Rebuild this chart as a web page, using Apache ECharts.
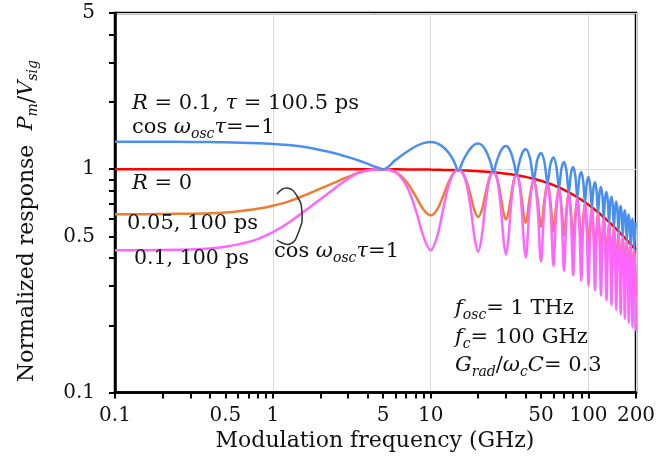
<!DOCTYPE html>
<html>
<head>
<meta charset="utf-8">
<script src="https://cdn.jsdelivr.net/npm/echarts@6.0.0/dist/echarts.min.js"></script>
<style>
  html, body { margin: 0; padding: 0; background: #fff; }
  #chart { width: 663px; height: 469px; }
</style>
</head>
<body>
<div id="chart"></div>
<script>
// modulation frequency (GHz)
var freq = [0.1, 0.15, 0.2, 0.3, 0.4, 0.5, 0.63, 0.8, 1, 1.25, 1.6, 2, 2.5, 2.8, 3.15, 3.5, 4, 4.5,
  5, 6, 7, 8, 9, 10, 11, 12, 13, 14, 15, 16, 17, 18, 19, 20, 21, 22, 23, 24, 25, 26, 27, 28, 29, 30,
  31, 32, 33, 34, 35, 36, 37, 38, 39, 40,
  42.5, 45, 47.5, 50, 52.5, 55, 57.5, 60, 62.5, 65, 67.5, 70, 72.5, 75, 77.5, 80, 82.5, 85, 87.5, 90,
  92.5, 95, 97.5, 100, 102.5, 105, 107.5, 110, 112.5, 115, 117.5, 120, 122.5, 125, 127.5, 130,
  132.5, 135, 137.5, 140, 142.5, 145, 147.5, 150, 152.5, 155, 157.5, 160, 162.5, 165, 167.5, 170,
  172.5, 175, 177.5, 180, 182.5, 185, 187.5, 190, 192.5, 195, 197.5, 200];

// R = 0
var respR0 = [1, 1, 1, 1, 1, 1, 1, 1, 1, 1, 1, 1, 1, 1, 1, 1, 1, 1,
  1.0, 0.998, 0.997, 0.997, 0.996, 0.995, 0.994, 0.992, 0.991, 0.990, 0.988, 0.986, 0.985, 0.983, 0.981,
  0.979, 0.977, 0.975, 0.973, 0.970, 0.968, 0.965, 0.963, 0.960, 0.957, 0.954, 0.952, 0.949, 0.946,
  0.943, 0.940, 0.936, 0.933, 0.930, 0.926, 0.923,
  0.914, 0.905, 0.896, 0.887, 0.877, 0.868, 0.858, 0.848, 0.838, 0.828, 0.818, 0.808, 0.798, 0.788,
  0.778, 0.768, 0.759, 0.749, 0.739, 0.730, 0.720, 0.711, 0.702, 0.693, 0.684, 0.675, 0.666, 0.658,
  0.649, 0.641, 0.633, 0.625, 0.617, 0.609, 0.602, 0.594, 0.587, 0.579, 0.573, 0.566, 0.559, 0.552,
  0.546, 0.539, 0.533, 0.527, 0.521, 0.515, 0.509, 0.503, 0.497, 0.492, 0.486, 0.481, 0.476, 0.471,
  0.466, 0.461, 0.456, 0.451, 0.446, 0.442, 0.437, 0.433];

// R = 0.1, tau = 100.5 ps, cos(w_osc tau) = -1
var respBlue = [1.327, 1.327, 1.326, 1.324, 1.322, 1.319, 1.313, 1.306, 1.297, 1.281, 1.255, 1.219,
  1.175, 1.148, 1.120, 1.093, 1.055, 1.022,
  1.0, 1.10, 1.19, 1.263, 1.308, 1.323, 1.305, 1.257, 1.183, 1.09,
  0.988, 1.087, 1.176, 1.245, 1.289, 1.302, 1.284, 1.235, 1.161, 1.069,
  0.968, 1.064, 1.149, 1.216, 1.257, 1.269, 1.251, 1.202, 1.129, 1.039,
  0.940, 1.032, 1.114, 1.178, 1.217, 1.228,
  1.127, 0.905, 1.105, 1.180, 1.082, 0.868, 1.058, 1.128, 1.033, 0.828, 1.009, 1.075,
  0.984, 0.788, 0.959, 1.021, 0.935, 0.749, 0.911, 0.970, 0.888, 0.711, 0.865, 0.921,
  0.843, 0.675, 0.821, 0.874, 0.800, 0.641, 0.780, 0.831, 0.761, 0.609, 0.742, 0.790,
  0.724, 0.579, 0.706, 0.752, 0.689, 0.552, 0.673, 0.717, 0.657, 0.527, 0.642, 0.684,
  0.627, 0.503, 0.613, 0.654, 0.600, 0.481, 0.587, 0.626, 0.574, 0.461, 0.562, 0.600,
  0.550, 0.442, 0.539, 0.576];

// R = 0.05, tau = 100 ps, cos(w_osc tau) = 1
var respOrange = [0.628, 0.628, 0.630, 0.632, 0.635, 0.640, 0.650, 0.664, 0.685, 0.715, 0.765, 0.818,
  0.874, 0.906, 0.936, 0.964, 0.987, 0.997,
  1.0, 0.970, 0.880, 0.761, 0.660, 0.621, 0.659, 0.758, 0.875, 0.962,
  0.988, 0.959, 0.870, 0.751, 0.650, 0.611, 0.648, 0.745, 0.859, 0.943,
  0.968, 0.938, 0.850, 0.733, 0.634, 0.595, 0.631, 0.725, 0.835, 0.916,
  0.940, 0.910, 0.824, 0.710, 0.614, 0.576,
  0.753, 0.905, 0.739, 0.553, 0.723, 0.868, 0.707, 0.529, 0.691, 0.828, 0.674, 0.504,
  0.658, 0.788, 0.641, 0.479, 0.625, 0.749, 0.609, 0.455, 0.593, 0.711, 0.578, 0.432,
  0.563, 0.675, 0.549, 0.410, 0.535, 0.641, 0.522, 0.390, 0.508, 0.609, 0.496, 0.371,
  0.484, 0.579, 0.472, 0.353, 0.460, 0.552, 0.449, 0.336, 0.439, 0.527, 0.429, 0.321,
  0.419, 0.503, 0.410, 0.307, 0.401, 0.481, 0.392, 0.294, 0.384, 0.461, 0.376, 0.281,
  0.368, 0.442, 0.360, 0.270];

// R = 0.1, tau = 100 ps, cos(w_osc tau) = 1
var respPink = [0.433, 0.433, 0.435, 0.437, 0.441, 0.449, 0.464, 0.486, 0.522, 0.574, 0.651, 0.734,
  0.826, 0.876, 0.925, 0.964, 0.990, 0.998,
  1.0, 0.968, 0.847, 0.665, 0.500, 0.433, 0.499, 0.662, 0.842, 0.960,
  0.988, 0.957, 0.837, 0.656, 0.492, 0.426, 0.490, 0.650, 0.827, 0.941,
  0.968, 0.936, 0.818, 0.640, 0.480, 0.415, 0.478, 0.633, 0.804, 0.914,
  0.940, 0.908, 0.793, 0.620, 0.465, 0.402,
  0.698, 0.905, 0.684, 0.386, 0.669, 0.868, 0.655, 0.369, 0.639, 0.828, 0.624, 0.351,
  0.609, 0.788, 0.594, 0.334, 0.579, 0.749, 0.564, 0.317, 0.549, 0.711, 0.535, 0.301,
  0.522, 0.675, 0.508, 0.286, 0.495, 0.641, 0.483, 0.272, 0.471, 0.609, 0.459, 0.258,
  0.448, 0.579, 0.437, 0.246, 0.426, 0.552, 0.416, 0.234, 0.407, 0.527, 0.397, 0.224,
  0.388, 0.503, 0.379, 0.214, 0.371, 0.481, 0.363, 0.205, 0.355, 0.461, 0.348, 0.196,
  0.341, 0.442, 0.334, 0.188];

// axis ticks and labels
var xTicks = [0.1, 0.2, 0.3, 0.4, 0.5, 0.6, 0.7, 0.8, 0.9, 1, 2, 3, 4, 5, 6, 7, 8, 9,
  10, 20, 30, 40, 50, 60, 70, 80, 90, 100, 200];
var xLabels = [0.1, 0.5, 1, 5, 10, 50, 100, 200];
var yTicks = [0.1, 0.2, 0.3, 0.4, 0.5, 0.6, 0.7, 0.8, 0.9, 1, 2, 3, 4, 5];
var yLabels = [0.1, 0.5, 1, 5];

var F = "'DejaVu Serif', serif";
var INK = '#111';

function pairs(vals) {
  return freq.map(function (f, i) { return [f, vals[i]]; });
}

var rich = {
  i: { fontFamily: F, fontStyle: 'italic', fontSize: 21, color: INK },
  s: { fontFamily: F, fontStyle: 'italic', fontSize: 14, color: INK, padding: [12, 0, 0, 0] }
};

function label(text, x, y, size) {
  return {
    type: 'text', x: x, y: y, z: 100,
    style: {
      text: text, fill: INK, fontFamily: F, fontSize: size || 21,
      align: 'left', verticalAlign: 'middle', rich: rich
    }
  };
}

var myChart = echarts.init(document.getElementById('chart'));

function lineSeries(name, vals, color, z) {
  return {
    name: name, type: 'line', data: pairs(vals), showSymbol: false, symbol: 'none',
    smooth: 0.35, z: z, lineStyle: { color: color, width: 2.5 }, animation: false
  };
}

myChart.setOption({
  animation: false,
  grid: {
    left: 115, right: 27, top: 13, bottom: 76.5,
    show: true, borderColor: '#000', borderWidth: 2.5, outerBoundsMode: 'none'
  },
  xAxis: [{
    type: 'log', logBase: 10, min: 0.1, max: 200,
    axisLine: { show: true, onZero: false, lineStyle: { color: '#000', width: 2.5 } },
    axisTick: { show: true, inside: false, length: 6, customValues: xTicks, lineStyle: { color: '#000', width: 2 } },
    axisLabel: {
      customValues: xLabels, fontFamily: F, fontSize: 20, color: INK, margin: 13,
      formatter: function (v) { return String(v); }
    },
    splitLine: { show: false }
  }, {
    // only for the decade grid lines
    type: 'log', logBase: 10, min: 0.1, max: 200, position: 'bottom',
    axisLine: { show: false }, axisTick: { show: false }, axisLabel: { show: false },
    splitLine: { show: true, lineStyle: { color: '#d9d9d9', width: 1 } }
  }],
  yAxis: [{
    type: 'log', logBase: 10, min: 0.1, max: 5,
    axisLine: { show: true, onZero: false, lineStyle: { color: '#000', width: 2.5 } },
    axisTick: { show: true, inside: false, length: 6, customValues: yTicks, lineStyle: { color: '#000', width: 2 } },
    axisLabel: {
      customValues: yLabels, fontFamily: F, fontSize: 20, color: INK, margin: 20,
      formatter: function (v) { return String(v); }
    },
    splitLine: { show: false }
  }, {
    type: 'log', logBase: 10, min: 0.1, max: 5, position: 'left',
    axisLine: { show: false }, axisTick: { show: false }, axisLabel: { show: false },
    splitLine: { show: true, lineStyle: { color: '#d9d9d9', width: 1 } }
  }],
  series: [
    lineSeries('R = 0', respR0, '#ff0000', 2),
    lineSeries('0.05, 100 ps', respOrange, '#ed7d31', 3),
    lineSeries('0.1, 100 ps', respPink, '#ff66ff', 4),
    lineSeries('R = 0.1, 100.5 ps', respBlue, '#4a8ff0', 5)
  ],
  graphic: [
    label('{i|R} = 0.1, {i|τ} = 100.5 ps', 132, 104),
    label('cos {i|ω}{s|osc}{i|τ}=−1', 132, 128),
    label('{i|R} = 0', 132, 184),
    label('0.05, 100 ps', 127, 224),
    label('0.1, 100 ps', 134, 259, 20.5),
    label('cos {i|ω}{s|osc}{i|τ}=1', 274, 252),
    label('{i|f}{s|osc}= 1 THz', 455, 309),
    label('{i|f}{s|c}= 100 GHz', 455, 338),
    label('{i|G}{s|rad}/{i|ω}{s|c}{i|C}= 0.3', 455, 366),
    {
      type: 'polyline', z: 100,
      shape: { points: [[277, 194], [287, 188], [297, 196], [302, 213], [299, 231], [290, 244], [277, 240]], smooth: 0.5 },
      style: { stroke: '#333', lineWidth: 1.5, fill: null }
    },
    {
      type: 'text', x: 375, y: 441, z: 100,
      style: { text: 'Modulation frequency (GHz)', fill: INK, fontFamily: F, fontSize: 22, align: 'center', verticalAlign: 'middle' }
    },
    {
      type: 'text', x: 27, y: 221, rotation: Math.PI / 2, z: 100,
      style: {
        text: 'Normalized response  {i|P}{s|m}/{i|V}{s|sig}', fill: INK, fontFamily: F, fontSize: 22,
        align: 'center', verticalAlign: 'middle', rich: rich
      }
    }
  ]
});
</script>
</body>
</html>
